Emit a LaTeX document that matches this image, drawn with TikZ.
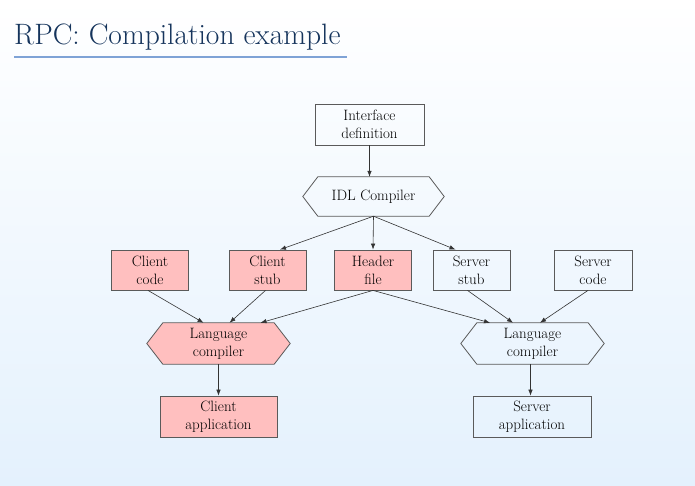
\documentclass[tikz,border=0pt]{standalone}
\usetikzlibrary{arrows.meta}
\pgfdeclarelayer{bgg}\pgfdeclarelayer{hex}
\pgfsetlayers{bgg,hex,main}
\definecolor{pinkfill}{HTML}{FFBFBF}
\definecolor{bordergray}{HTML}{5A5A5A}
\definecolor{edgegray}{HTML}{333333}
\definecolor{titleblue}{HTML}{15345C}
\definecolor{ruleblue}{HTML}{7FA3D6}
\definecolor{bgbottom}{HTML}{E4F1FD}
\newcommand{\hexshape}[3]{%
  \begin{pgfonlayer}{hex}
    \draw[draw=bordergray, line width=0.8pt, fill=#3] (#1.west) -- ([xshift=#2]#1.north west) -- ([xshift=-#2]#1.north east) -- (#1.east) -- ([xshift=-#2]#1.south east) -- ([xshift=#2]#1.south west) -- cycle;
  \end{pgfonlayer}}
\begin{document}
\begin{tikzpicture}[x=1pt,y=-1pt,
  lbl/.style={font=\fontsize{15}{18}\selectfont, text=black, align=center, inner sep=0pt},
  box/.style={lbl, draw=bordergray, line width=0.8pt, minimum width=77pt, minimum height=40pt},
  pinkbox/.style={box, fill=pinkfill},
  hexnode/.style={lbl, minimum width=143pt, minimum height=41pt},
  arr/.style={draw=edgegray, line width=0.6pt, -{Latex[length=6pt,width=4.5pt]}}]
\begin{pgfonlayer}{bgg}
  \shade[top color=white, bottom color=bgbottom] (0,0) rectangle (695,485);
\end{pgfonlayer}
\useasboundingbox (0,0) rectangle (695,485);
\node[anchor=base west, inner sep=0pt, text=titleblue, font=\fontsize{29.5}{34}\selectfont] (title) at (14,44) {RPC: Compilation example};
\draw[ruleblue, line width=1.5pt] (14,57) -- (347,57);

\node[box, minimum width=109pt, minimum height=41pt] (iface) at (369.5,124.5) {Interface\\definition};
\node[hexnode, minimum width=141pt, minimum height=39pt] (idl) at (373.5,196.5) {IDL Compiler};
\hexshape{idl}{15pt}{none}

\node[pinkbox] (ccode) at (150,270) {Client\\code};
\node[pinkbox] (cstub) at (267.5,270) {Client\\stub};
\node[pinkbox] (header) at (373,270) {Header\\file};
\node[box] (sstub) at (471.5,270) {Server\\stub};
\node[box, minimum width=78pt] (scode) at (593,270) {Server\\code};

\node[hexnode] (lcl) at (218.5,343.5) {Language\\compiler};
\hexshape{lcl}{16pt}{pinkfill}
\node[hexnode] (lcr) at (532.5,343.5) {Language\\compiler};
\hexshape{lcr}{16pt}{none}

\node[pinkbox, minimum width=117pt, minimum height=41pt] (capp) at (218.5,416.5) {Client\\application};
\node[box, minimum width=118pt, minimum height=41pt] (sapp) at (532,416.5) {Server\\application};

\draw[arr] (iface.south) -- (iface.south |- idl.north);
\draw[arr] (idl.south) -- ([xshift=12.5pt]cstub.north);
\draw[arr] (idl.south) -- (header.north);
\draw[arr] (idl.south) -- ([xshift=-16pt]sstub.north);
\draw[arr] ([xshift=-2pt]ccode.south) -- ([xshift=-15pt]lcl.north);
\draw[arr] ([xshift=-2pt]cstub.south) -- ([xshift=11pt]lcl.north);
\draw[arr] (header.south) -- ([xshift=42pt]lcl.north);
\draw[arr] (header.south) -- ([xshift=-42.5pt]lcr.north);
\draw[arr] ([xshift=-4pt]sstub.south) -- ([xshift=-19.5pt]lcr.north);
\draw[arr] ([xshift=-5pt]scode.south) -- ([xshift=7.5pt]lcr.north);
\draw[arr] (lcl) -- (capp);
\draw[arr] ([xshift=-2pt]lcr.south) -- ([xshift=-2pt]lcr.south |- sapp.north);
\end{tikzpicture}
\end{document}
